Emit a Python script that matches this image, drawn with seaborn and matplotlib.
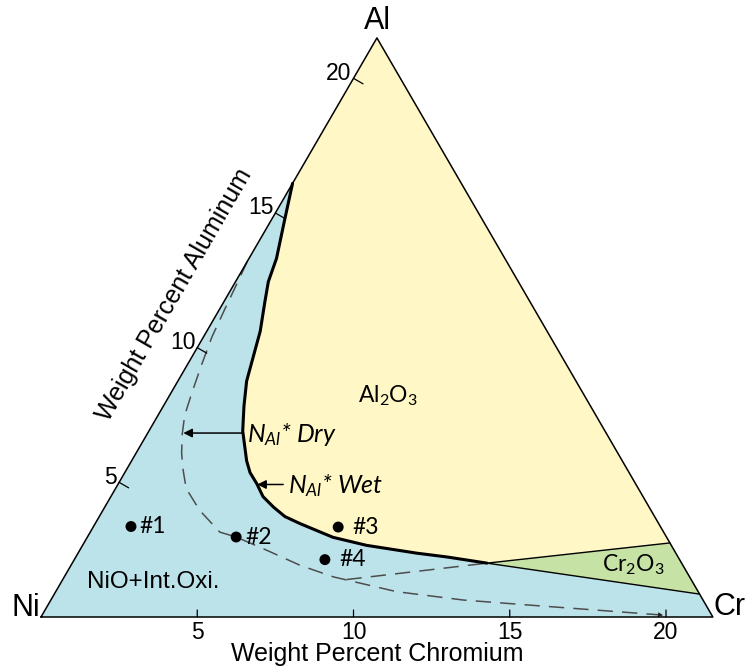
import numpy as np
import matplotlib
matplotlib.use("Agg")
import matplotlib.pyplot as plt
import matplotlib.transforms as mtransforms
import seaborn as sns

# Composition window of the ternary: Ni-rich corner, Cr and Al in wt%
SPAN = 21.5
tick_values = [5, 10, 15, 20]
tick_labels = ["5", "10", "15", "20"]
corner_names = ["Ni", "Cr", "Al"]

# N_Al* boundary, wet atmosphere (Cr wt%, Al wt%)
wet_cr = [0.0, 0.41, 0.88, 1.05, 1.31, 1.71, 2.20, 2.58, 3.00, 3.68, 4.01,
          4.43, 4.87, 5.40, 5.94, 6.55, 7.86, 9.09, 10.84, 11.87, 13.27]
wet_al = [16.1, 14.79, 13.31, 12.45, 11.71, 10.61, 8.76, 7.83, 6.91, 5.80, 5.36,
          4.95, 4.47, 4.08, 3.73, 3.47, 2.96, 2.66, 2.37, 2.23, 2.00]

# N_Al* boundary, dry atmosphere
dry_cr = [0.0, 0.08, 0.17, 0.27, 0.45, 0.65, 0.85, 1.12, 1.45, 1.76, 2.26,
          3.11, 4.15, 4.76, 5.98, 7.33, 8.61, 10.91, 13.2, 15.43, 17.6, 19.87]
dry_al = [13.2, 12.4, 11.4, 10.4, 9.4, 8.4, 7.5, 6.8, 6.1, 5.55, 4.77,
          3.95, 3.15, 2.97, 2.48, 1.92, 1.49, 0.94, 0.63, 0.44, 0.26, 0.07]

# dry Cr2O3 / NiO split
dry_branch_cr = [9.08, 13.27]
dry_branch_al = [1.39, 2.00]

# Cr2O3 field corners (triple point, upper and lower edge points)
cr2o3_cr = [13.27, 18.75, 20.65]
cr2o3_al = [2.00, 2.75, 0.85]

# Alloy compositions
alloy_names = ["#1", "#2", "#3", "#4"]
alloy_cr = [1.20, 4.76, 7.84, 8.02]
alloy_al = [3.36, 2.97, 3.34, 2.13]

# Field labels
field_names = ["Al$_2$O$_3$", "Cr$_2$O$_3$", "NiO+Int.Oxi."]
field_cr = [7.0, 17.96, 2.94]
field_al = [8.2, 1.96, 1.29]

# N_Al* pointers: tail (Cr, Al) and head Cr
dry_arrow = (3.03, 6.83, 1.14)
wet_arrow = (5.29, 4.92, 4.46)

BLUE = "#bde3ea"
YELLOW = "#fff7c6"
GREEN = "#c6e2a4"
PX = 0.72  # points per pixel at 100 dpi

sns.set_theme(style="white")
plt.rcParams["font.family"] = ["Liberation Sans", "DejaVu Sans"]
plt.rcParams["text.color"] = "black"
plt.rcParams["mathtext.fontset"] = "custom"
plt.rcParams["mathtext.rm"] = "Lato"
plt.rcParams["mathtext.it"] = "Lato:italic"

fig = plt.figure(figsize=(7.51, 6.68), dpi=100)
ax = fig.add_axes([0, 0, 1, 1])
ax.set_axis_off()

# (Cr, Al) -> Cartesian position inside an equilateral triangle
h = np.sqrt(3) / 2
tern = mtransforms.Affine2D.from_values(1, 0, 0.5, h, 0, 0) + ax.transData

# fields
ax.fill([0, SPAN, 0], [0, 0, SPAN], transform=tern, color=BLUE, lw=0, zorder=1)
ax.fill(wet_cr + [cr2o3_cr[1], 0], wet_al + [cr2o3_al[1], SPAN],
        transform=tern, color=YELLOW, lw=0, zorder=2)
ax.fill(cr2o3_cr, cr2o3_al, transform=tern, color=GREEN, lw=0, zorder=2)

# boundaries
sns.lineplot(x=dry_cr, y=dry_al, sort=False, estimator=None, ax=ax,
             color="#4d4d4d", lw=1.1, linestyle=(0, (10, 6)), transform=tern, zorder=3)
sns.lineplot(x=dry_branch_cr, y=dry_branch_al, sort=False, estimator=None, ax=ax,
             color="#4d4d4d", lw=1.1, linestyle=(0, (10, 6)), transform=tern, zorder=3)
sns.lineplot(x=[cr2o3_cr[1], cr2o3_cr[0], cr2o3_cr[2]],
             y=[cr2o3_al[1], cr2o3_al[0], cr2o3_al[2]], sort=False, estimator=None,
             ax=ax, color="black", lw=1.0, transform=tern, zorder=3)
sns.lineplot(x=wet_cr, y=wet_al, sort=False, estimator=None, ax=ax,
             color="black", lw=2.2, transform=tern, zorder=4)

# arrow tip at the end of the dry boundary
ax.annotate("", xy=(dry_cr[-1], dry_al[-1]), xycoords=tern,
            xytext=(dry_cr[-2], dry_al[-2]), textcoords=tern,
            arrowprops=dict(arrowstyle="-|>", lw=0, color="#222222",
                            mutation_scale=9, shrinkA=0, shrinkB=0), zorder=4)

# triangle outline
sns.lineplot(x=[0, SPAN, 0, 0], y=[0, 0, SPAN, 0], sort=False, estimator=None,
             ax=ax, color="black", lw=1.1, transform=tern, zorder=5)

# ticks and tick labels
for t, lab in zip(tick_values, tick_labels):
    ax.annotate("", xy=(t, 0), xycoords=tern, xytext=(0, 7 * PX),
                textcoords="offset points",
                arrowprops=dict(arrowstyle="-", lw=0.9, color="black", shrinkA=0, shrinkB=0))
    ax.annotate(lab, xy=(t, 0), xycoords=tern, xytext=(0, -4 * PX),
                textcoords="offset points", ha="center", va="top", fontsize=16.5)
    ax.annotate("", xy=(0, t), xycoords=tern, xytext=(0.866 * 11 * PX, -0.5 * 11 * PX),
                textcoords="offset points",
                arrowprops=dict(arrowstyle="-", lw=0.9, color="black", shrinkA=0, shrinkB=0))
    ax.annotate(lab, xy=(0, t), xycoords=tern, xytext=(-2 * PX, 5 * PX),
                textcoords="offset points", ha="right", va="center", fontsize=16.5)

# axis titles
ax.annotate("Weight Percent Chromium", xy=(SPAN / 2, 0), xycoords=tern,
            xytext=(0, -37 * PX), textcoords="offset points",
            ha="center", va="center", fontsize=18)
ax.annotate("Weight Percent Aluminum", xy=(0, 11.1), xycoords=tern,
            xytext=(-0.866 * 46 * PX, 0.5 * 46 * PX), textcoords="offset points",
            ha="center", va="center", rotation=60, rotation_mode="anchor", fontsize=18)

# corner labels
ax.annotate(corner_names[0], xy=(0, 0), xycoords=tern, xytext=(-1 * PX, 9 * PX),
            textcoords="offset points", ha="right", va="center", fontsize=22)
ax.annotate(corner_names[1], xy=(SPAN, 0), xycoords=tern, xytext=(1 * PX, 10 * PX),
            textcoords="offset points", ha="left", va="center", fontsize=22)
ax.annotate(corner_names[2], xy=(0, SPAN), xycoords=tern, xytext=(0, 2 * PX),
            textcoords="offset points", ha="center", va="bottom", fontsize=22)

# field labels
for name, c, a in zip(field_names, field_cr, field_al):
    fam = ["Liberation Sans"] if name.startswith("NiO") else ["Lato"]
    ax.text(c, a, name, transform=tern, ha="center", va="center",
            fontsize=17.5 if name.startswith("NiO") else 16.5, family=fam, zorder=6)

# alloys
sns.scatterplot(x=alloy_cr, y=alloy_al, ax=ax, s=62, color="black",
                edgecolor="none", transform=tern, zorder=7)
label_dx = [8, 9, 14, 14]
for name, c, a, dx in zip(alloy_names, alloy_cr, alloy_al, label_dx):
    ax.annotate(name, xy=(c, a), xycoords=tern, xytext=(dx * PX, 0),
                textcoords="offset points", ha="left", va="center",
                fontsize=16.5, family=["Lato"], zorder=7)

# N_Al* pointers
for (c0, a0, c1), txt, tx in [(dry_arrow, r"$N_{Al}$* Dry", 5),
                              (wet_arrow, r"$N_{Al}$* Wet", 5)]:
    ax.annotate("", xy=(c1, a0), xycoords=tern, xytext=(c0, a0), textcoords=tern,
                arrowprops=dict(arrowstyle="-|>", lw=1.1, color="black",
                                mutation_scale=13, shrinkA=0, shrinkB=0), zorder=6)
    ax.annotate(txt, xy=(c0, a0), xycoords=tern, xytext=(tx * PX, -1 * PX),
                textcoords="offset points", ha="left", va="center",
                fontsize=18, family=["Lato"], style="italic", zorder=6)

ax.set_xlim(-41 / 31.25, (751 - 41) / 31.25)
ax.set_ylim(-51 / 31.1, 617 / 31.1)

fig.savefig("out.png", dpi=100)
